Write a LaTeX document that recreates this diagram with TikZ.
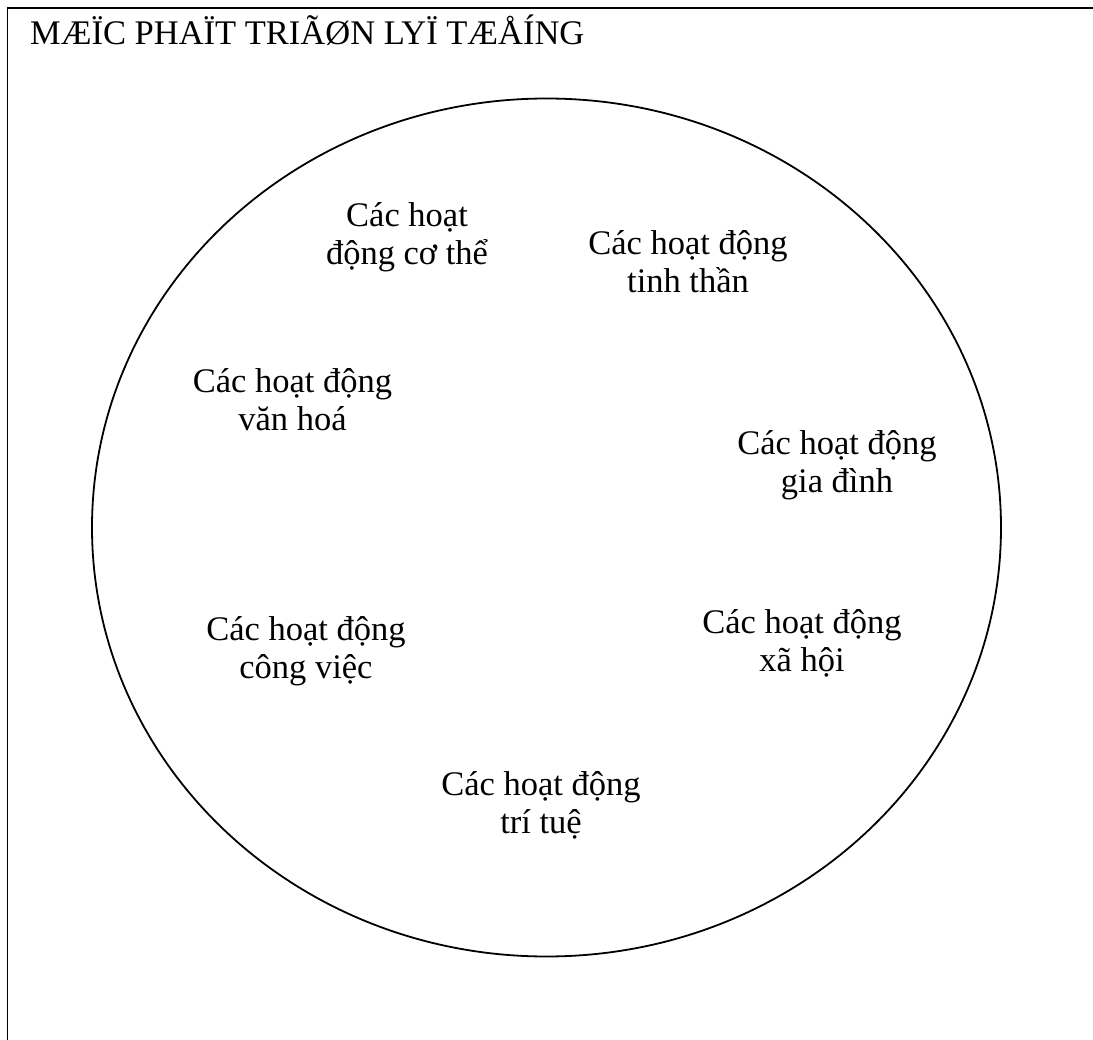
\documentclass[tikz,border=0pt]{standalone}
\usepackage{fontspec}
\setmainfont{Liberation Serif}
\usetikzlibrary{shapes.geometric}
\begin{document}
\begin{tikzpicture}[x=1pt,y=1pt,
  lbl/.style={font=\fontsize{34.5}{38}\selectfont, align=center, inner sep=0pt, anchor=base},
  frameline/.style={line width=1.6pt},
  ringline/.style={line width=1.8pt}]
\useasboundingbox (0,0) rectangle (1093,-1040);
\coordinate (fa) at (7.5,-1040);
\coordinate (fb) at (7.5,-8);
\coordinate (fc) at (1093,-8);
\draw[frameline] (fa) -- (fb) -- (fc);
\node[lbl, anchor=base west] (title) at (30,-45) {MÆÏC PHAÏT TRIÃØN LYÏ TÆÅÍNG};
\node[ringline, draw, ellipse, minimum width=909pt, minimum height=858pt, inner sep=0pt] (outer) at (546.5,-527.5) {};
\node[lbl] (cothe) at (407,-265) {Các hoạt\\động cơ thể};
\node[lbl] (tinhthan) at (688,-293) {Các hoạt động\\tinh thần};
\node[lbl] (vanhoa) at (292.5,-431) {Các hoạt động\\văn hoá};
\node[lbl] (giadinh) at (837,-493) {Các hoạt động\\gia đình};
\node[lbl] (congviec) at (306,-678) {Các hoạt động\\công việc};
\node[lbl] (xahoi) at (802,-671) {Các hoạt động\\xã hội};
\node[lbl] (tritue) at (541,-833) {Các hoạt động\\trí tuệ};
\end{tikzpicture}
\end{document}
